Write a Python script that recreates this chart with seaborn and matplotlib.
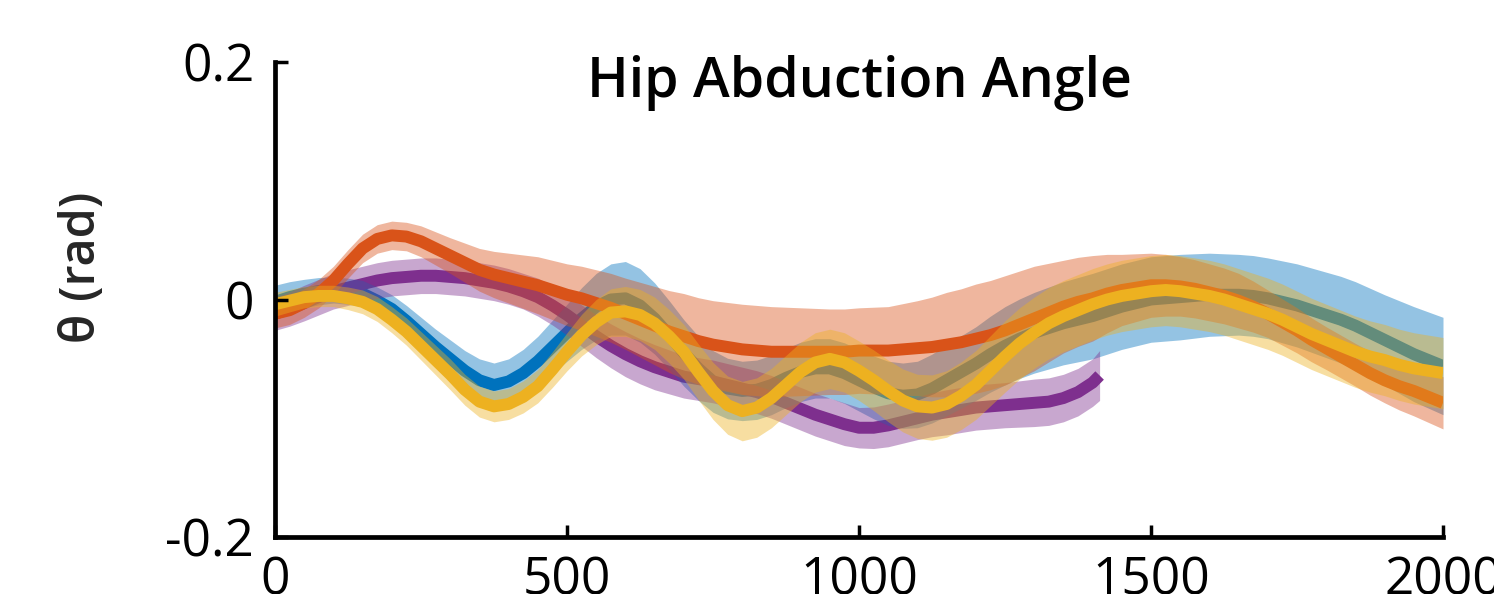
import numpy as np
import pandas as pd
import matplotlib
matplotlib.use("Agg")
import matplotlib.pyplot as plt
import seaborn as sns

# Time samples (ms)
time_full = np.arange(0, 2001, 25)
time_purple = np.append(np.arange(0, 1401, 25), 1412)

# Mean hip abduction angle (rad) and standard deviation per condition
blue_mean = [
    -0.002, 0.002, 0.005, 0.007, 0.008, 0.007, 0.005, -0.001,
    -0.008, -0.018, -0.029, -0.040, -0.050, -0.060, -0.068, -0.072,
    -0.069, -0.062, -0.052, -0.040, -0.028, -0.016, -0.006, 0.000,
    0.001, -0.005, -0.016, -0.030, -0.045, -0.058, -0.069, -0.075,
    -0.077, -0.076, -0.072, -0.066, -0.061, -0.058, -0.058, -0.062,
    -0.068, -0.074, -0.079, -0.081, -0.080, -0.075, -0.068, -0.061,
    -0.054, -0.046, -0.039, -0.033, -0.028, -0.024, -0.020, -0.017,
    -0.014, -0.010, -0.006, -0.003, 0.000, 0.001, 0.002, 0.003,
    0.004, 0.004, 0.004, 0.003, 0.001, -0.002, -0.005, -0.009,
    -0.013, -0.017, -0.022, -0.028, -0.034, -0.040, -0.046, -0.051,
    -0.056]
blue_sd = [
    0.014, 0.013, 0.012, 0.0115, 0.011, 0.011, 0.011, 0.0115,
    0.012, 0.013, 0.014, 0.015, 0.016, 0.017, 0.018, 0.0185,
    0.019, 0.020, 0.021, 0.0225, 0.024, 0.026, 0.028, 0.030,
    0.031, 0.031, 0.030, 0.029, 0.028, 0.027, 0.026, 0.0255,
    0.025, 0.025, 0.025, 0.025, 0.025, 0.025, 0.025, 0.0255,
    0.026, 0.0265, 0.027, 0.0275, 0.028, 0.029, 0.030, 0.0305,
    0.031, 0.032, 0.033, 0.0335, 0.034, 0.0345, 0.035, 0.0355,
    0.036, 0.036, 0.036, 0.036, 0.036, 0.036, 0.036, 0.0355,
    0.035, 0.0345, 0.034, 0.034, 0.034, 0.0345, 0.035, 0.0355,
    0.036, 0.0365, 0.037, 0.0375, 0.038, 0.039, 0.040, 0.0405,
    0.041]

orange_mean = [
    -0.012, -0.009, -0.003, 0.005, 0.016, 0.030, 0.043, 0.051,
    0.054, 0.053, 0.049, 0.043, 0.037, 0.031, 0.025, 0.021,
    0.018, 0.015, 0.012, 0.008, 0.004, 0.001, -0.003, -0.007,
    -0.012, -0.017, -0.022, -0.027, -0.031, -0.035, -0.038, -0.040,
    -0.042, -0.043, -0.044, -0.044, -0.044, -0.044, -0.044, -0.044,
    -0.043, -0.043, -0.043, -0.042, -0.041, -0.040, -0.038, -0.036,
    -0.033, -0.030, -0.026, -0.021, -0.016, -0.011, -0.006, -0.002,
    0.001, 0.005, 0.008, 0.010, 0.012, 0.012, 0.011, 0.009,
    0.006, 0.003, -0.001, -0.006, -0.012, -0.019, -0.026, -0.034,
    -0.041, -0.048, -0.055, -0.062, -0.068, -0.073, -0.077, -0.082,
    -0.087]
orange_sd = [
    0.012, 0.012, 0.012, 0.012, 0.012, 0.012, 0.012, 0.012,
    0.012, 0.012, 0.013, 0.014, 0.015, 0.0165, 0.018, 0.0195,
    0.021, 0.0225, 0.024, 0.025, 0.026, 0.027, 0.028, 0.029,
    0.030, 0.0315, 0.033, 0.0345, 0.036, 0.0365, 0.037, 0.0375,
    0.038, 0.038, 0.038, 0.0375, 0.037, 0.0365, 0.036, 0.036,
    0.036, 0.0365, 0.037, 0.0385, 0.040, 0.042, 0.044, 0.045,
    0.046, 0.046, 0.046, 0.045, 0.044, 0.0415, 0.039, 0.0375,
    0.036, 0.033, 0.030, 0.0285, 0.027, 0.026, 0.025, 0.0245,
    0.024, 0.0235, 0.023, 0.0215, 0.020, 0.0195, 0.019, 0.0185,
    0.018, 0.018, 0.018, 0.0185, 0.019, 0.020, 0.021, 0.0215,
    0.022]

yellow_mean = [
    -0.004, -0.001, 0.002, 0.003, 0.003, 0.001, -0.002, -0.008,
    -0.017, -0.027, -0.039, -0.051, -0.063, -0.076, -0.086, -0.090,
    -0.088, -0.082, -0.073, -0.059, -0.044, -0.030, -0.019, -0.011,
    -0.010, -0.013, -0.020, -0.031, -0.044, -0.061, -0.077, -0.089,
    -0.094, -0.091, -0.083, -0.072, -0.061, -0.053, -0.050, -0.053,
    -0.060, -0.068, -0.077, -0.085, -0.090, -0.091, -0.088, -0.081,
    -0.072, -0.060, -0.048, -0.037, -0.028, -0.020, -0.014, -0.009,
    -0.004, 0.000, 0.003, 0.005, 0.007, 0.008, 0.007, 0.005,
    0.003, 0.000, -0.004, -0.008, -0.012, -0.017, -0.023, -0.029,
    -0.034, -0.039, -0.044, -0.048, -0.051, -0.055, -0.058, -0.060,
    -0.062]
yellow_sd = [
    0.010, 0.0095, 0.009, 0.009, 0.009, 0.0095, 0.010, 0.0105,
    0.011, 0.0115, 0.012, 0.0125, 0.013, 0.013, 0.013, 0.013,
    0.013, 0.0135, 0.014, 0.015, 0.016, 0.0175, 0.019, 0.020,
    0.021, 0.0215, 0.022, 0.0225, 0.023, 0.0235, 0.024, 0.0245,
    0.025, 0.025, 0.025, 0.025, 0.025, 0.025, 0.025, 0.025,
    0.025, 0.0255, 0.026, 0.0265, 0.027, 0.0275, 0.028, 0.0285,
    0.029, 0.0295, 0.030, 0.030, 0.030, 0.030, 0.030, 0.030,
    0.030, 0.030, 0.030, 0.030, 0.030, 0.030, 0.030, 0.030,
    0.030, 0.030, 0.030, 0.030, 0.030, 0.030, 0.030, 0.030,
    0.030, 0.030, 0.030, 0.030, 0.030, 0.030, 0.030, 0.030,
    0.030]

purple_mean = [
    -0.012, -0.008, -0.003, 0.002, 0.007, 0.010, 0.013, 0.016,
    0.018, 0.019, 0.020, 0.020, 0.019, 0.018, 0.016, 0.014,
    0.011, 0.007, 0.002, -0.005, -0.013, -0.022, -0.031, -0.039,
    -0.046, -0.052, -0.057, -0.061, -0.065, -0.067, -0.069, -0.072,
    -0.075, -0.078, -0.082, -0.087, -0.092, -0.097, -0.101, -0.105,
    -0.108, -0.108, -0.106, -0.103, -0.100, -0.097, -0.095, -0.093,
    -0.091, -0.090, -0.089, -0.088, -0.087, -0.086, -0.083, -0.078,
    -0.070, -0.064]
purple_sd = [
    0.014, 0.0145, 0.015, 0.015, 0.015, 0.015, 0.015, 0.015,
    0.015, 0.015, 0.015, 0.015, 0.015, 0.015, 0.015, 0.015,
    0.015, 0.015, 0.016, 0.0165, 0.017, 0.0175, 0.018, 0.0185,
    0.019, 0.019, 0.019, 0.0185, 0.018, 0.018, 0.018, 0.018,
    0.018, 0.018, 0.018, 0.018, 0.018, 0.018, 0.018, 0.018,
    0.017, 0.0175, 0.018, 0.018, 0.018, 0.0185, 0.019, 0.019,
    0.019, 0.019, 0.019, 0.0195, 0.020, 0.020, 0.020, 0.020,
    0.020, 0.021]

x_ticks = [0, 500, 1000, 1500, 2000]
y_ticks = [-0.2, 0, 0.2]
y_tick_labels = ["-0.2", "0", "0.2"]

BLUE, ORANGE, YELLOW, PURPLE = "#0072BD", "#D95319", "#EDB120", "#7E2F8E"
BAND_ALPHA = 0.42
LW = 8.6

sns.set_theme(style="white")
plt.rcParams["font.family"] = ["Open Sans", "DejaVu Sans"]

fig = plt.figure(figsize=(14.94, 5.94), dpi=100)
ax = fig.add_axes([275 / 1494, 57 / 594, 1168 / 1494, 475 / 594])

series = {
    "blue": (time_full, blue_mean, blue_sd, BLUE),
    "orange": (time_full, orange_mean, orange_sd, ORANGE),
    "yellow": (time_full, yellow_mean, yellow_sd, YELLOW),
    "purple": (time_purple, purple_mean, purple_sd, PURPLE),
}

# drawing order: (name, element, zorder)
layers = [
    ("blue", "line", 1.0), ("purple", "line", 1.1),
    ("blue", "band", 2.0), ("purple", "band", 2.1),
    ("orange", "band", 3.0), ("orange", "line", 3.1),
    ("yellow", "band", 4.0), ("yellow", "line", 4.1),
]

for name, kind, z in layers:
    t, m, s, c = series[name]
    df = pd.DataFrame({"t": t, "mean": m, "sd": s})
    if kind == "line":
        sns.lineplot(data=df, x="t", y="mean", color=c, linewidth=LW, ax=ax,
                     zorder=z, solid_capstyle="butt", solid_joinstyle="round",
                     estimator=None, sort=False)
    else:
        ax.fill_between(df["t"], df["mean"] - df["sd"], df["mean"] + df["sd"],
                        color=c, alpha=BAND_ALPHA, linewidth=0, zorder=z)

ax.set_xlim(0, 2000)
ax.set_ylim(-0.2, 0.2)
ax.set_xticks(x_ticks)
ax.set_xticklabels([str(v) for v in x_ticks])
ax.set_yticks(y_ticks)
ax.set_yticklabels(y_tick_labels)
ax.set_xlabel("")
ax.set_ylabel("θ (rad)", fontsize=35, fontweight="semibold", color="#262626")
ax.yaxis.set_label_coords(-0.144, 0.568)

for side in ("top", "right"):
    ax.spines[side].set_visible(False)
for side in ("left", "bottom"):
    ax.spines[side].set_linewidth(3.4)
    ax.spines[side].set_color("black")
    ax.spines[side].set_capstyle("projecting")
    ax.spines[side].set_zorder(6)

# ticks and spines sit above the data
ax.xaxis.set_zorder(6)
ax.yaxis.set_zorder(6)

ax.tick_params(axis="both", which="major", direction="in", length=9, width=2.5,
               color="black", labelsize=37, labelcolor="black",
               bottom=True, left=True, top=False, right=False)
ax.tick_params(axis="y", pad=15)
ax.tick_params(axis="x", pad=13)

ax.text(0.5, 0.926, "Hip Abduction Angle", transform=ax.transAxes,
        ha="center", va="baseline", fontsize=40, fontweight="semibold", color="black")

fig.savefig("out.png", dpi=100)
